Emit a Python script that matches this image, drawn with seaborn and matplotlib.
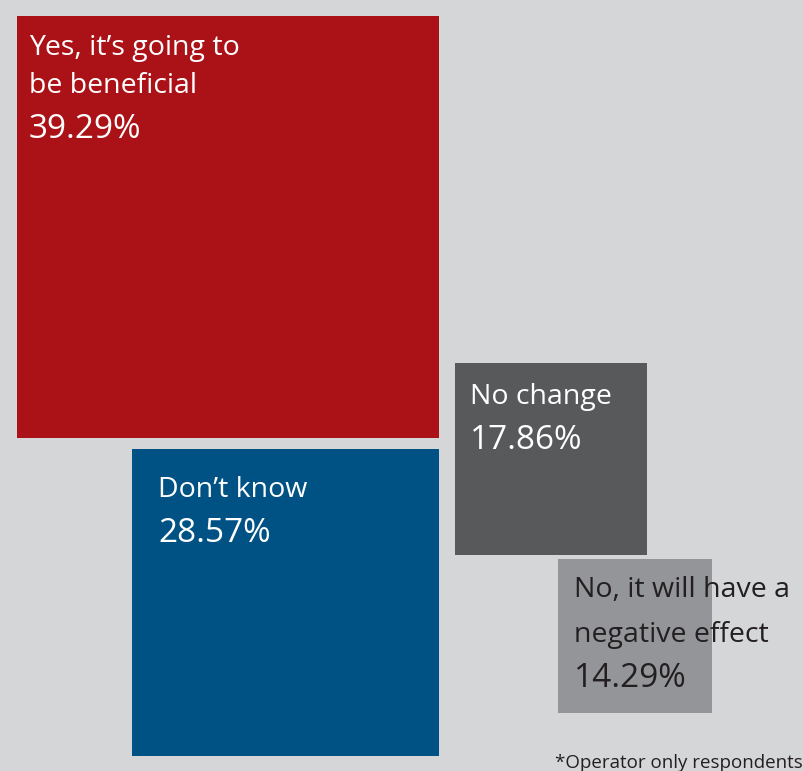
import matplotlib
matplotlib.use("Agg")
import matplotlib.pyplot as plt
from matplotlib.patches import Rectangle
import seaborn as sns

# Survey answers and their shares (%)
categories = [
    "Yes, it\u2019s going to\nbe beneficial",
    "Don\u2019t know",
    "No change",
    "No, it will have a\nnegative effect",
]
shares = [39.29, 28.57, 17.86, 14.29]
footnote = "*Operator only respondents"

box_colors = ["#ab1218", "#005284", "#58595b", "#939598"]
text_colors = ["white", "white", "white", "#231f20"]

BG = "#d5d6d8"
W, H = 804, 771
PX_PER_PCT = 10.75  # square side length per percentage point

sns.set_theme(style="white")
plt.rcParams["font.family"] = ["Open Sans", "DejaVu Sans"]

fig = plt.figure(figsize=(W / 100, H / 100), dpi=100, facecolor=BG)
ax = fig.add_axes([0, 0, 1, 1])
ax.set_facecolor(BG)
ax.set_xlim(0, W)
ax.set_ylim(H, 0)
ax.axis("off")

# anchor corner of each square and which corner it is
anchors = [((439, 438), "br"), ((439, 756), "br"), ((455, 363), "tl"), ((558, 559), "tl")]
# label position: (x, first baseline), line step for the name lines
label_pos = [(29, 55), (158, 497), (470, 404), (574, 597)]
line_steps = [38, 45, 45, 45]

for cat, val, fc, tc, (anc, kind), (tx, ty), step in zip(
    categories, shares, box_colors, text_colors, anchors, label_pos, line_steps
):
    side = val * PX_PER_PCT
    x0, y0 = anc
    if kind == "br":
        x0, y0 = x0 - side, y0 - side
    ax.add_patch(Rectangle((x0, y0), side, side, facecolor=fc, edgecolor="none", zorder=1))
    lines = cat.split("\n")
    for i, ln in enumerate(lines):
        ax.text(tx, ty + i * step, ln, color=tc, fontsize=20.5, ha="left",
                va="baseline", zorder=3)
    ax.text(tx, ty + (len(lines) - 1) * step + 45, f"{val:.2f}%", color=tc,
            fontsize=24, ha="left", va="baseline", zorder=3)

ax.text(803, 768, footnote, color="#231f20", fontsize=13.5, ha="right", va="baseline")

fig.savefig("out.png", dpi=100, facecolor=BG)
